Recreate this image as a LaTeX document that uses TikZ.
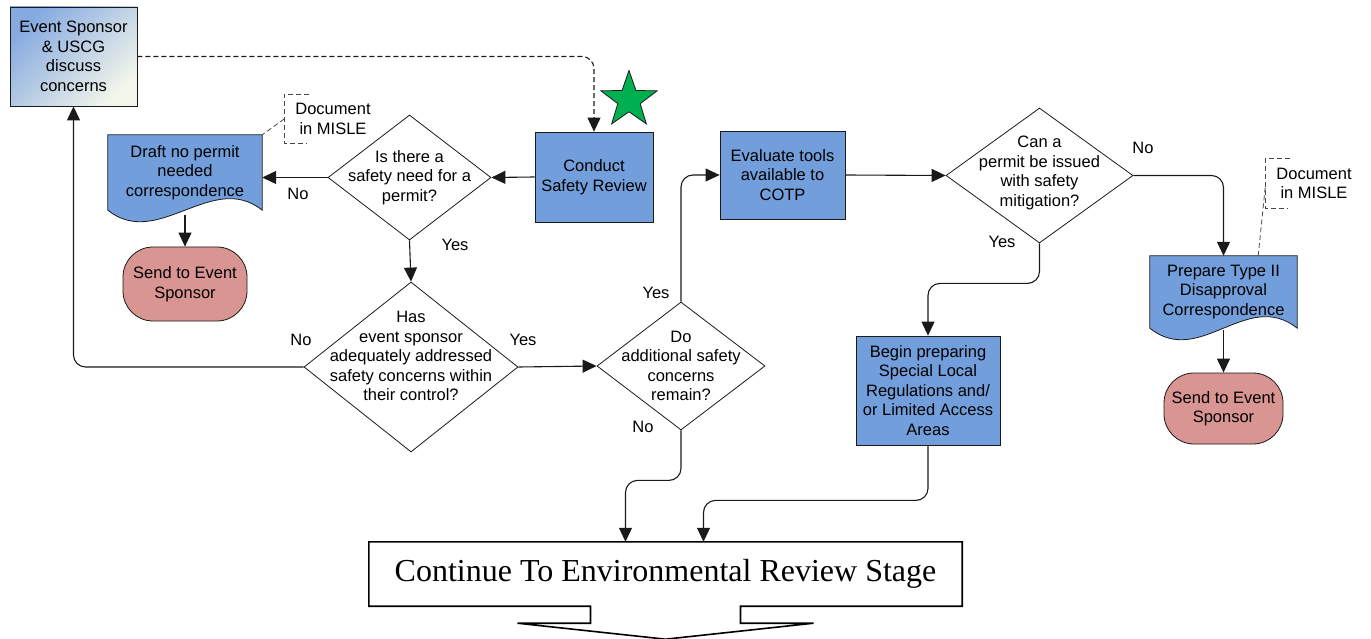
\documentclass[tikz,border=0pt]{standalone}
\usepackage{fontspec}
\setmainfont{Liberation Sans}
\newfontfamily\contfont{Liberation Serif}
\usepackage{tikz}
\usetikzlibrary{positioning,shapes.geometric,shapes.misc,arrows.meta,calc,backgrounds}
\definecolor{ink}      {HTML}{1A1A1A}
\definecolor{procblue} {HTML}{729FDC}
\definecolor{termpink} {HTML}{D99592}
\definecolor{stargreen}{HTML}{00B050}
\definecolor{evblue}   {HTML}{86AAE0}
\definecolor{evpale}   {HTML}{F2F5EA}
\tikzset{
  every node/.style={font=\fontsize{16.5}{19.5}\selectfont},
  % --- nodes
  txt/.style    = {align=center, inner sep=0pt},
  proc/.style   = {draw=ink, fill=procblue, align=center, inner sep=2pt, line width=0.8pt},
  evbox/.style  = {draw=ink, top color=evblue, bottom color=evpale, shading angle=45,
                   align=center, line width=0.8pt},
  term/.style   = {draw=ink, fill=termpink, rounded corners=30pt, align=center, line width=0.8pt},
  dec/.style    = {diamond, draw=ink, fill=white, inner sep=0pt, line width=0.8pt},
  doc/.style    = {align=center, inner sep=0pt},
  note/.style   = {align=center, inner xsep=11pt, inner ysep=9pt},
  starsh/.style = {star, star points=5, star point ratio=2.5, minimum size=59pt, inner sep=0pt,
                   fill=stargreen, draw=ink, line width=0.8pt},
  contbox/.style= {align=center, minimum width=593pt, minimum height=64pt,
                   font=\contfont\fontsize{32}{38}\selectfont},
  lbl/.style    = {inner sep=1pt},
  % --- edges
  e/.style      = {-{Triangle[length=14pt,width=13pt]}, line width=1.1pt, draw=ink, rounded corners=12pt},
  ed/.style     = {e, dash pattern=on 5pt off 3pt},
  nl/.style     = {draw=ink!80, dash pattern=on 5pt off 3pt, line width=0.8pt},
  docfill/.style= {draw=ink, fill=procblue, line width=0.8pt},
  contline/.style={draw=black, line width=1.6pt, line join=miter},
}
\newcommand{\wavedoc}[1]{%
  \begin{scope}[on background layer]
    \draw[docfill] (#1.north west) -- (#1.north east) -- (#1.south east)
      .. controls +(-50,-40) and +(50,40) .. (#1.south west) -- cycle;
  \end{scope}}

\begin{document}
\begin{tikzpicture}[x=1pt,y=-1pt]
  \useasboundingbox (0,0) rectangle (1371,639);
  % --- left part
  \node[evbox, minimum width=127pt, minimum height=99pt] (ev) at (73.5,56.5) {Event Sponsor\\\& USCG\\discuss\\concerns};
  \node[proc, minimum width=118pt, minimum height=90pt] (csr) at (594,177) {Conduct\\Safety Review};
  \node[starsh] (star) at (629,100) {};
  \node[dec, minimum width=163pt, minimum height=125pt] (q1) at (409.5,177.5) {};
  \node[txt] (q1t) at (q1) {Is there a\\safety need for a\\permit?};
  \node[doc, minimum width=154pt, minimum height=75pt] (draft) at (185,172.5) {Draft no permit\\needed\\correspondence};
  \wavedoc{draft}
  \node[note] (n1) at (333,119) {Document\\in MISLE};
  \node[term, minimum width=124pt, minimum height=74pt] (t1) at (185,284) {Send to Event\\Sponsor};
  \node[dec, minimum width=214pt, minimum height=170pt] (q2) at (411,367) {};
  \node[txt] (q2t) at (411,356) {Has\\event sponsor\\adequately addressed\\safety concerns within\\their control?};
  \node[dec, minimum width=168pt, minimum height=128pt] (q3) at (681,366) {};
  \node[txt] (q3t) at (q3) {Do\\additional safety\\concerns\\remain?};
  % --- right part
  \node[proc, minimum width=125pt, minimum height=88pt] (eval) at (782.5,175) {Evaluate tools\\available to\\COTP};
  \node[dec, minimum width=187pt, minimum height=135pt] (q4) at (1039.5,175.5) {};
  \node[txt] (q4t) at (1039.5,173) {Can a\\permit be issued\\with safety\\mitigation?};
  \node[proc, minimum width=144pt, minimum height=109pt] (begin) at (928,390.5) {Begin preparing\\Special Local\\Regulations and/\\or Limited Access\\Areas};
  \node[doc, minimum width=147pt, minimum height=72pt] (prep) at (1223.5,292) {Prepare Type II\\Disapproval\\Correspondence};
  \wavedoc{prep}
  \node[note] (n2) at (1314,183.5) {Document\\in MISLE};
  \node[term, minimum width=119pt, minimum height=71pt] (t2) at (1223.5,408.5) {Send to Event\\Sponsor};
  \node[contbox] (cont) at (665.5,574) {Continue To Environmental Review Stage};
  \draw[contline] (cont.north west) -- (cont.north east) -- (cont.south east)
    -- ([xshift=75pt]cont.south) -- ++(0,17) -- ++(73,0) -- ([yshift=-33pt]cont.south)
    -- ([xshift=-148pt,yshift=-17pt]cont.south) -- ++(73,0) -- ([xshift=-75pt]cont.south)
    -- (cont.south west) -- cycle;
  % --- notes
  \draw[nl] ([xshift=25pt]n1.north west) -- (n1.north west) -- (n1.south west) -- ([xshift=23pt]n1.south west);
  \draw[nl] (n1.west) -- (draft.north east);
  \draw[nl] ([xshift=25pt]n2.north west) -- (n2.north west) -- (n2.south west) -- ([xshift=23pt]n2.south west);
  \draw[nl] ([yshift=-4pt]n2.west) -- ([xshift=-39pt]prep.north east);
  % --- connectors
  \draw[ed] (ev.east) -| (csr.north);
  \draw[e] (csr.west) -- (q1.east);
  \draw[e] (q1.west) -- (q1.west -| draft.east);
  \draw[e] ([yshift=-5pt]draft.south) -- (t1.north);
  \draw[e] (q1.south) -- (q2.north);
  \draw[e] (q2.west) -| (ev.south);
  \draw[e] (q2.east) -- (q3.west);
  \draw[e] (q3.north) |- (eval.west);
  \draw[e] (q3.south) -- ++(0,50) -| ([xshift=-40pt]cont.north);
  \draw[e] (eval.east) -- (q4.west);
  \draw[e] (q4.east) -| (prep.north);
  \draw[e] (q4.south) -- ++(0,40) -| (begin.north);
  \draw[e] (begin.south) -- ++(0,55) -| ([xshift=38pt]cont.north);
  \draw[e] ([yshift=-2pt]prep.south) -- (t2.north);
  % --- labels
  \node[lbl] (l1) at (298,194) {No};
  \node[lbl] (l2) at (455,245) {Yes};
  \node[lbl] (l3) at (301,340) {No};
  \node[lbl] (l4) at (523,340) {Yes};
  \node[lbl] (l5) at (656,293) {Yes};
  \node[lbl] (l6) at (643,427) {No};
  \node[lbl] (l7) at (1002,242) {Yes};
  \node[lbl] (l8) at (1143,148) {No};
\end{tikzpicture}
\end{document}
